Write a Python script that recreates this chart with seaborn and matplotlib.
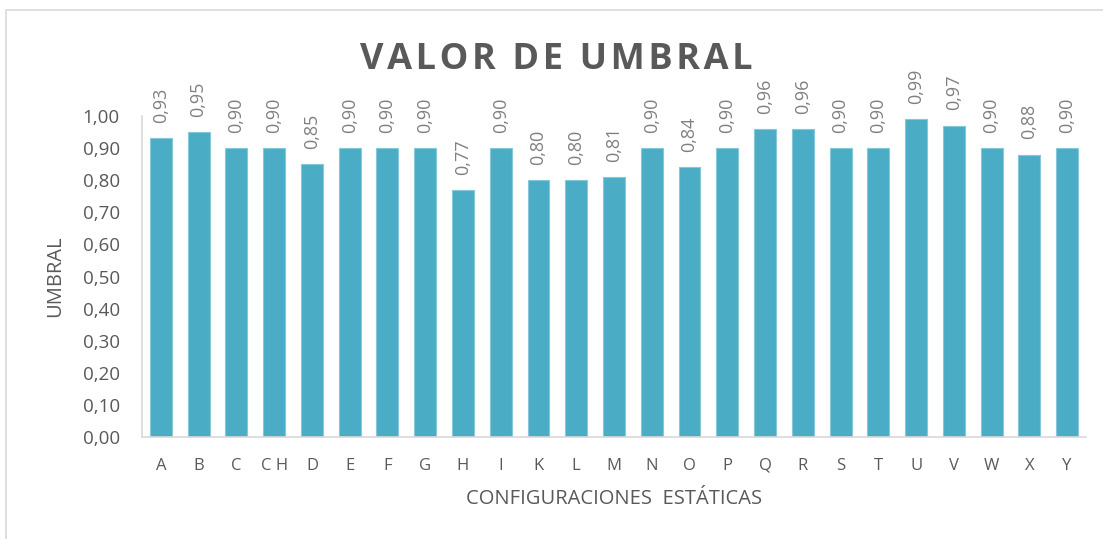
import matplotlib
matplotlib.use("Agg")
import matplotlib.pyplot as plt
import seaborn as sns
import pandas as pd
from matplotlib.patches import Rectangle

categories = ["A", "B", "C", "C H", "D", "E", "F", "G", "H", "I", "K", "L", "M",
              "N", "O", "P", "Q", "R", "S", "T", "U", "V", "W", "X", "Y"]
values = [0.93, 0.95, 0.90, 0.90, 0.85, 0.90, 0.90, 0.90, 0.77, 0.90, 0.80, 0.80, 0.81,
          0.90, 0.84, 0.90, 0.96, 0.96, 0.90, 0.90, 0.99, 0.97, 0.90, 0.88, 0.90]
yticks = [0.0, 0.1, 0.2, 0.3, 0.4, 0.5, 0.6, 0.7, 0.8, 0.9, 1.0]

df = pd.DataFrame({"config": categories, "umbral": values})

sns.set_theme(style="white")
plt.rcParams["font.family"] = ["Open Sans", "DejaVu Sans"]

fig = plt.figure(figsize=(11.03, 5.39), dpi=100)
ax = fig.add_axes([0.1287, 0.1892, 0.8559, 0.5956])

sns.barplot(data=df, x="config", y="umbral", color="#4BACC6", saturation=1,
            width=0.58, edgecolor="#86c8da", linewidth=0.8, ax=ax)

for i, v in enumerate(values):
    ax.annotate(f"{v:.2f}".replace(".", ","), xy=(i, v), xytext=(0, 11),
                textcoords="offset points", rotation=90, ha="center", va="bottom",
                fontsize=13, color="#808080")

ax.set_ylim(0, 1.0)
ax.set_xlim(-0.5, len(categories) - 0.5)
ax.set_yticks(yticks)
ax.set_yticklabels([f"{t:.2f}".replace(".", ",") for t in yticks])
ax.tick_params(axis="y", labelsize=13.5, colors="#595959", length=0, pad=16)
ax.tick_params(axis="x", labelsize=12, colors="#595959", length=0, pad=15)

for side in ["top", "right"]:
    ax.spines[side].set_visible(False)
for side in ["left", "bottom"]:
    ax.spines[side].set_color("#d9d9d9")
    ax.spines[side].set_linewidth(1.2)

ax.set_xlabel("CONFIGURACIONES  ESTÁTICAS", fontsize=14.5, color="#595959", labelpad=11)
ax.set_ylabel("UMBRAL", fontsize=14.5, color="#595959", va="center")
ax.yaxis.set_label_coords(-0.0922, 0.50)

title = "\u200a".join("VALOR DE UMBRAL")
fig.text(0.504, 0.889, title, ha="center", va="center", fontsize=26,
         fontweight="bold", color="#595959")

# outer chart frame
fig.patches.append(Rectangle((6 / 1103, -0.05), 1.2, (539 - 10) / 539 + 0.05,
                             transform=fig.transFigure, fill=False,
                             edgecolor="#d9d9d9", linewidth=1.2))

fig.savefig("out.png", dpi=100)
